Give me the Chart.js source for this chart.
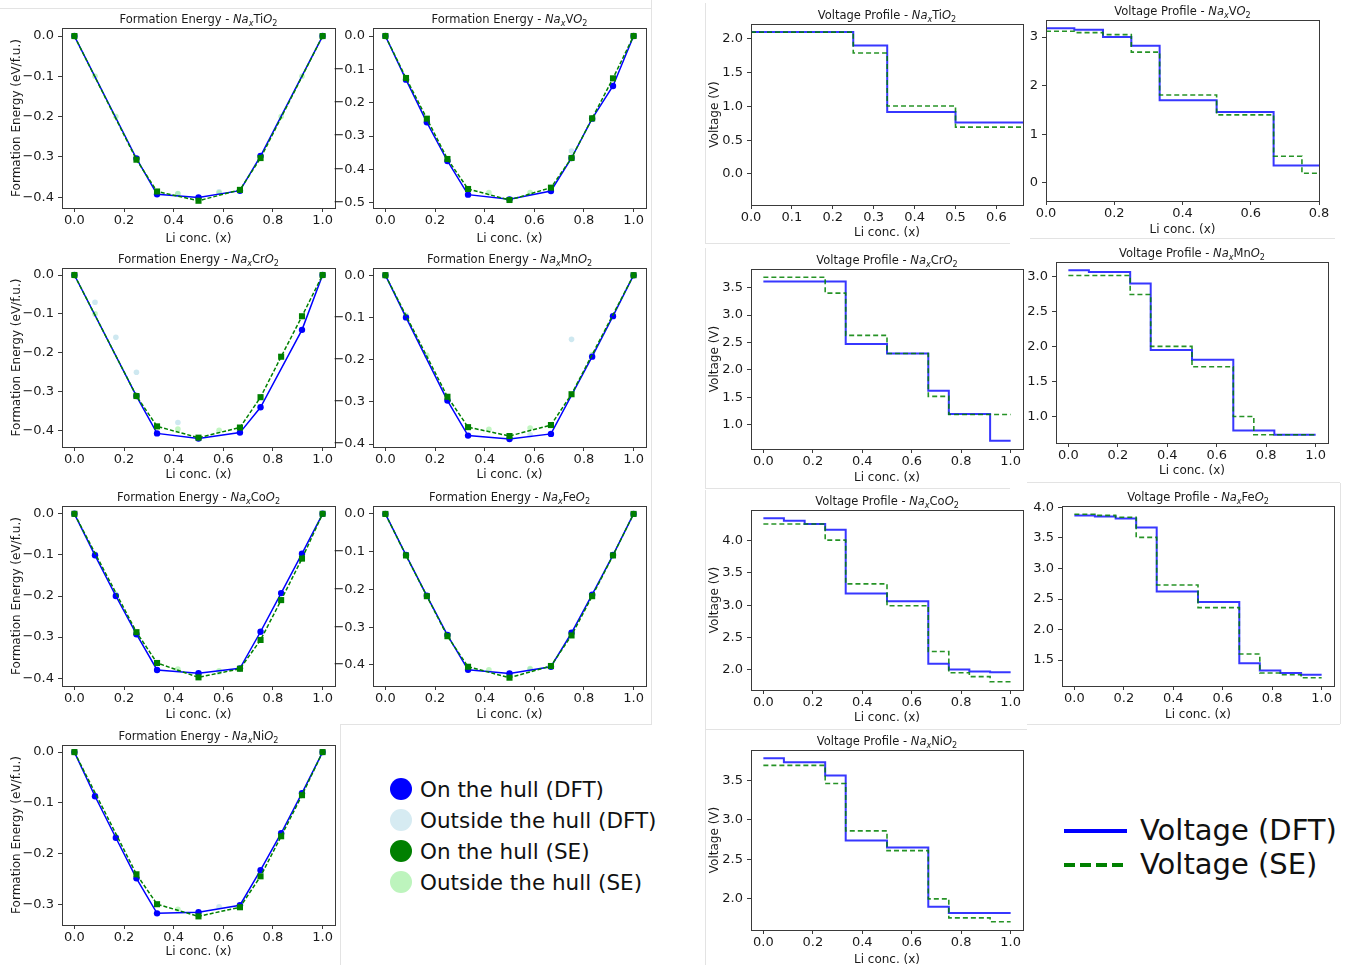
<!DOCTYPE html>
<html>
<head>
<meta charset="utf-8">
<script src="https://cdn.jsdelivr.net/npm/chart.js@4.4.1/dist/chart.umd.min.js"></script>
<style>
  body { margin: 0; background: #fff; width: 1351px; height: 965px; overflow: hidden; position: relative; font-family: "DejaVu Sans", sans-serif; color: #111; }
  canvas { position: absolute; }
  .line { position: absolute; background: #e3e3e3; }
  .lg { position: absolute; display: flex; align-items: center; white-space: nowrap; }
  .dot { display: inline-block; width: 22px; height: 22px; border-radius: 50%; margin-right: 8px; }
</style>
</head>
<body>

<div class="line" style="left:0;top:8px;width:651px;height:1px"></div>
<div class="line" style="left:651px;top:0;width:1px;height:724px"></div>
<div class="line" style="left:340px;top:724px;width:312px;height:1px"></div>
<div class="line" style="left:340px;top:724px;width:1px;height:241px"></div>
<div class="line" style="left:705px;top:3px;width:1px;height:240px"></div>
<div class="line" style="left:705px;top:243px;width:305px;height:1px"></div>
<div class="line" style="left:705px;top:248px;width:1px;height:240px"></div>
<div class="line" style="left:705px;top:488px;width:305px;height:1px"></div>
<div class="line" style="left:705px;top:490px;width:1px;height:475px"></div>
<div class="line" style="left:705px;top:729px;width:322px;height:1px"></div>
<div class="line" style="left:1030px;top:238px;width:305px;height:1px"></div>
<div class="line" style="left:1027px;top:482px;width:313px;height:1px"></div>
<div class="line" style="left:1340px;top:483px;width:1px;height:241px"></div>
<div class="line" style="left:1027px;top:724px;width:313px;height:1px"></div>

<div class="lg" style="left:390px;top:777px;font-size:21.5px;height:24px"><span class="dot" style="background:#0000ff"></span>On the hull (DFT)</div>
<div class="lg" style="left:390px;top:808px;font-size:21.5px;height:24px"><span class="dot" style="background:#d6ebf2"></span>Outside the hull (DFT)</div>
<div class="lg" style="left:390px;top:839px;font-size:21.5px;height:24px"><span class="dot" style="background:#008000"></span>On the hull (SE)</div>
<div class="lg" style="left:390px;top:870px;font-size:21.5px;height:24px"><span class="dot" style="background:#bdf4bd"></span>Outside the hull (SE)</div>

<svg style="position:absolute;left:1060px;top:815px" width="80" height="60">
  <line x1="4" y1="16" x2="67" y2="16" stroke="#0000ff" stroke-width="4"/>
  <line x1="4" y1="50" x2="67" y2="50" stroke="#008000" stroke-width="4" stroke-dasharray="11,5"/>
</svg>
<div class="lg" style="left:1140px;top:813px;font-size:29px;height:34px">Voltage (DFT)</div>
<div class="lg" style="left:1140px;top:847px;font-size:29px;height:34px">Voltage (SE)</div>

<script>
// ---- formation energy data: [x, eV/f.u.] ----
const tiDft = [[0, 0], [0.25, -0.304], [0.333, -0.393], [0.5, -0.401], [0.667, -0.384], [0.75, -0.298], [1, 0]]
const tiSe = [[0, 0], [0.25, -0.307], [0.333, -0.386], [0.5, -0.409], [0.667, -0.382], [0.75, -0.303], [1, 0]]
const tiOutDft = [[0.417, -0.391], [0.583, -0.387]]
const tiOutSe = [[0.083, -0.1], [0.167, -0.2], [0.417, -0.392], [0.583, -0.389], [0.833, -0.2], [0.917, -0.1]]

const vDft = [[0, 0], [0.083, -0.131], [0.167, -0.259], [0.25, -0.375], [0.333, -0.476], [0.5, -0.49], [0.667, -0.465], [0.75, -0.366], [0.833, -0.248], [0.917, -0.15], [1, 0]]
const vSe = [[0, 0], [0.083, -0.126], [0.167, -0.248], [0.25, -0.369], [0.333, -0.459], [0.5, -0.492], [0.667, -0.455], [0.75, -0.366], [0.833, -0.247], [0.917, -0.127], [1, 0]]
const vOutDft = [[0.75, -0.345]]
const vOutSe = [[0.417, -0.47], [0.583, -0.47]]

const crDft = [[0, 0], [0.25, -0.311], [0.333, -0.407], [0.5, -0.42], [0.667, -0.405], [0.75, -0.34], [0.917, -0.141], [1, 0]]
const crSe = [[0, 0], [0.25, -0.311], [0.333, -0.389], [0.5, -0.418], [0.667, -0.392], [0.75, -0.314], [0.833, -0.21], [0.917, -0.106], [1, 0]]
const crOutDft = [[0.083, -0.07], [0.167, -0.16], [0.25, -0.25], [0.417, -0.379]]
const crOutSe = [[0.083, -0.1], [0.417, -0.396], [0.583, -0.399]]

const mnDft = [[0, 0], [0.083, -0.1], [0.25, -0.297], [0.333, -0.38], [0.5, -0.388], [0.667, -0.376], [0.833, -0.193], [0.917, -0.097], [1, 0]]
const mnSe = [[0, 0], [0.25, -0.288], [0.333, -0.36], [0.5, -0.381], [0.667, -0.355], [0.75, -0.282], [1, 0]]
const mnOutDft = [[0.75, -0.152], [0.583, -0.378]]
const mnOutSe = [[0.083, -0.095], [0.167, -0.19], [0.417, -0.365], [0.583, -0.362], [0.833, -0.188]]

const coDft = [[0, 0], [0.083, -0.101], [0.167, -0.2], [0.25, -0.293], [0.333, -0.38], [0.5, -0.388], [0.667, -0.376], [0.75, -0.287], [0.833, -0.193], [0.917, -0.097], [1, 0]]
const coSe = [[0, 0], [0.25, -0.288], [0.333, -0.363], [0.5, -0.398], [0.667, -0.377], [0.75, -0.307], [0.833, -0.21], [0.917, -0.109], [1, 0]]
const coOutDft = [[0.583, -0.385]]
const coOutSe = [[0.083, -0.098], [0.167, -0.196], [0.417, -0.378], [0.583, -0.382]]

const feDft = [[0, 0], [0.083, -0.109], [0.167, -0.217], [0.25, -0.321], [0.333, -0.413], [0.5, -0.423], [0.667, -0.405], [0.75, -0.315], [0.833, -0.214], [0.917, -0.109], [1, 0]]
const feSe = [[0, 0], [0.083, -0.11], [0.167, -0.218], [0.25, -0.324], [0.333, -0.405], [0.5, -0.434], [0.667, -0.403], [0.75, -0.322], [0.833, -0.218], [0.917, -0.11], [1, 0]]
const feOutDft = [[0.583, -0.412]]
const feOutSe = [[0.417, -0.413], [0.583, -0.41]]

const niDft = [[0, 0], [0.083, -0.087], [0.167, -0.169], [0.25, -0.249], [0.333, -0.318], [0.5, -0.316], [0.667, -0.302], [0.75, -0.233], [0.833, -0.16], [0.917, -0.081], [1, 0]]
const niSe = [[0, 0], [0.25, -0.241], [0.333, -0.3], [0.5, -0.324], [0.667, -0.306], [0.75, -0.245], [0.833, -0.166], [0.917, -0.085], [1, 0]]
const niOutDft = [[0.583, -0.305]]
const niOutSe = [[0.417, -0.31]]

// ---- voltage profile data: step edges (x) and plateau voltages (V) ----
const tiStepsDft = [0, 0.25, 0.333, 0.5, 0.667]
const tiVoltDft = [2.1, 1.9, 0.916, 0.762]
const tiStepsSe = [0, 0.25, 0.333, 0.5, 0.667]
const tiVoltSe = [2.1, 1.79, 1.005, 0.693]

const vStepsDft = [0, 0.083, 0.167, 0.25, 0.333, 0.5, 0.667, 0.833]
const vVoltDft = [3.18, 3.15, 3.0, 2.82, 1.7, 1.46, 0.36]
const vStepsSe = [0, 0.083, 0.167, 0.25, 0.333, 0.5, 0.667, 0.75, 0.833]
const vVoltSe = [3.12, 3.09, 3.05, 2.69, 1.81, 1.4, 0.55, 0.2]

const crStepsDft = [0, 0.333, 0.5, 0.667, 0.75, 0.917, 1]
const crVoltDft = [3.61, 2.475, 2.3, 1.62, 1.2, 0.71]
const crStepsSe = [0, 0.25, 0.333, 0.5, 0.667, 0.75, 1]
const crVoltSe = [3.69, 3.4, 2.63, 2.3, 1.52, 1.19]

const mnStepsDft = [0, 0.083, 0.25, 0.333, 0.5, 0.667, 0.833, 1]
const mnVoltDft = [3.086, 3.06, 2.895, 1.95, 1.81, 0.8, 0.74]
const mnStepsSe = [0, 0.25, 0.333, 0.5, 0.667, 0.75, 1]
const mnVoltSe = [3.01, 2.74, 2.0, 1.71, 1.0, 0.74]

const coStepsDft = [0, 0.083, 0.167, 0.25, 0.333, 0.5, 0.667, 0.75, 0.833, 0.917, 1]
const coVoltDft = [4.35, 4.31, 4.26, 4.17, 3.18, 3.06, 2.09, 2.0, 1.97, 1.96]
const coStepsSe = [0, 0.25, 0.333, 0.5, 0.667, 0.75, 0.833, 0.917, 1]
const coVoltSe = [4.26, 4.01, 3.33, 2.99, 2.28, 1.95, 1.89, 1.81]

const feStepsDft = [0, 0.083, 0.167, 0.25, 0.333, 0.5, 0.667, 0.75, 0.833, 0.917, 1]
const feVoltDft = [3.87, 3.85, 3.82, 3.67, 2.625, 2.45, 1.45, 1.33, 1.29, 1.26]
const feStepsSe = [0, 0.083, 0.167, 0.25, 0.333, 0.5, 0.667, 0.75, 0.833, 0.917, 1]
const feVoltSe = [3.89, 3.87, 3.84, 3.51, 2.73, 2.36, 1.6, 1.29, 1.26, 1.21]

const niStepsDft = [0, 0.083, 0.25, 0.333, 0.5, 0.667, 0.75, 1]
const niVoltDft = [3.78, 3.73, 3.56, 2.74, 2.65, 1.9, 1.82]
const niStepsSe = [0, 0.25, 0.333, 0.5, 0.667, 0.75, 0.917, 1]
const niVoltSe = [3.69, 3.46, 2.86, 2.61, 2.0, 1.76, 1.71]

// ---- tick labels ----
const concTicks = [0, 0.2, 0.4, 0.6, 0.8, 1.0]
const concTicksTi = [0, 0.1, 0.2, 0.3, 0.4, 0.5, 0.6]
const concTicksV = [0, 0.2, 0.4, 0.6, 0.8]
const energyTicks4 = [0, -0.1, -0.2, -0.3, -0.4]
const energyTicks5 = [0, -0.1, -0.2, -0.3, -0.4, -0.5]
const energyTicks3 = [0, -0.1, -0.2, -0.3]
const voltTicksTi = [0, 0.5, 1.0, 1.5, 2.0]
const voltTicksV = [0, 1, 2, 3]
const voltTicksCr = [1.0, 1.5, 2.0, 2.5, 3.0, 3.5]
const voltTicksMn = [1.0, 1.5, 2.0, 2.5, 3.0]
const voltTicksCo = [2.0, 2.5, 3.0, 3.5, 4.0]
const voltTicksFe = [1.5, 2.0, 2.5, 3.0, 3.5, 4.0]
const voltTicksNi = [2.0, 2.5, 3.0, 3.5]

const FONT = '"DejaVu Sans", sans-serif'
const INK = '#1a1a1a'
const SPINE = '#3a3a3a'
const BLUE = '#0000ff'
const GREEN = '#008000'

const fePanels = [
  { metal: 'Ti', box: [62, 28, 335, 208], y: [-0.427, 0.02], yt: energyTicks4, d: [tiDft, tiSe, tiOutDft, tiOutSe], yTitleX: 17, xTitleY: 237 },
  { metal: 'V', box: [373, 28, 646, 208], y: [-0.516, 0.024], yt: energyTicks5, d: [vDft, vSe, vOutDft, vOutSe], xTitleY: 237 },
  { metal: 'Cr', box: [62, 268, 335, 447], y: [-0.442, 0.018], yt: energyTicks4, d: [crDft, crSe, crOutDft, crOutSe], yTitleX: 17, xTitleY: 473 },
  { metal: 'Mn', box: [373, 268, 646, 447], y: [-0.407, 0.017], yt: energyTicks4, d: [mnDft, mnSe, mnOutDft, mnOutSe], xTitleY: 473 },
  { metal: 'Co', box: [62, 506, 335, 686], y: [-0.419, 0.019], yt: energyTicks4, d: [coDft, coSe, coOutDft, coOutSe], yTitleX: 17, xTitleY: 713 },
  { metal: 'Fe', box: [373, 506, 646, 686], y: [-0.456, 0.021], yt: energyTicks4, d: [feDft, feSe, feOutDft, feOutSe], xTitleY: 713 },
  { metal: 'Ni', box: [62, 745, 335, 925], y: [-0.341, 0.014], yt: energyTicks3, d: [niDft, niSe, niOutDft, niOutSe], yTitleX: 17, xTitleY: 950 }
]

const vPanels = [
  { metal: 'Ti', box: [751, 24, 1023, 205], x: [0, 0.665], xt: concTicksTi, y: [-0.46, 2.22], yt: voltTicksTi, dec: 1, s: [tiStepsDft, tiVoltDft, tiStepsSe, tiVoltSe], yTitleX: 715, xTitleY: 231 },
  { metal: 'V', box: [1046, 20, 1319, 201], x: [0, 0.8], xt: concTicksV, y: [-0.37, 3.35], yt: voltTicksV, dec: 0, s: [vStepsDft, vVoltDft, vStepsSe, vVoltSe], xTitleY: 228 },
  { metal: 'Cr', box: [751, 269, 1023, 449], x: [-0.05, 1.05], xt: concTicks, y: [0.561, 3.839], yt: voltTicksCr, dec: 1, s: [crStepsDft, crVoltDft, crStepsSe, crVoltSe], yTitleX: 715, xTitleY: 476 },
  { metal: 'Mn', box: [1056, 262, 1328, 443], x: [-0.05, 1.05], xt: concTicks, y: [0.623, 3.203], yt: voltTicksMn, dec: 1, s: [mnStepsDft, mnVoltDft, mnStepsSe, mnVoltSe], xTitleY: 469 },
  { metal: 'Co', box: [751, 510, 1023, 690], x: [-0.05, 1.05], xt: concTicks, y: [1.683, 4.477], yt: voltTicksCo, dec: 1, s: [coStepsDft, coVoltDft, coStepsSe, coVoltSe], yTitleX: 715, xTitleY: 716 },
  { metal: 'Fe', box: [1062, 506, 1334, 686], x: [-0.05, 1.05], xt: concTicks, y: [1.076, 4.024], yt: voltTicksFe, dec: 1, s: [feStepsDft, feVoltDft, feStepsSe, feVoltSe], xTitleY: 713 },
  { metal: 'Ni', box: [751, 750, 1023, 930], x: [-0.05, 1.05], xt: concTicks, y: [1.606, 3.884], yt: voltTicksNi, dec: 1, s: [niStepsDft, niVoltDft, niStepsSe, niVoltSe], yTitleX: 715, xTitleY: 958 }
]

function fmt(v, dec) {
  return (v < -1e-9 ? '\u2212' : '') + Math.abs(v).toFixed(dec)
}

function toPts(arr) {
  return arr.map(([x, y]) => ({ x, y }))
}

function stepPts(edges, volts) {
  const pts = volts.map((v, i) => ({ x: edges[i], y: v }))
  pts.push({ x: edges[edges.length - 1], y: volts[volts.length - 1] })
  return pts
}

// title with mathtext-like formula: Na_x M O_2
function titlePlugin(prefix, metal) {
  const size = 11.5
  const parts = [
    { t: prefix }, { t: 'Na', it: true }, { t: 'x', it: true, sub: true },
    { t: metal }, { t: 'O', it: true }, { t: '2', sub: true }
  ]
  const fontOf = p => (p.it ? 'italic ' : '') + (p.sub ? size * 0.7 : size) + 'px ' + FONT
  return {
    id: 'mathTitle',
    afterDraw(chart) {
      const ctx = chart.ctx
      const a = chart.chartArea
      ctx.save()
      const widths = parts.map(p => { ctx.font = fontOf(p); return ctx.measureText(p.t).width })
      let x = (a.left + a.right) / 2 - widths.reduce((s, w) => s + w, 0) / 2
      const base = a.top - 9 + size * 0.36
      ctx.fillStyle = INK
      ctx.textAlign = 'left'
      ctx.textBaseline = 'alphabetic'
      parts.forEach((p, i) => {
        ctx.font = fontOf(p)
        ctx.fillText(p.t, x, base + (p.sub ? size * 0.25 : 0))
        x += widths[i]
      })
      ctx.restore()
    }
  }
}

const framePlugin = {
  id: 'frame',
  afterDraw(chart) {
    const { ctx, chartArea: a } = chart
    ctx.save()
    ctx.strokeStyle = SPINE
    ctx.lineWidth = 1
    const l = Math.round(a.left) + 0.5, t = Math.round(a.top) + 0.5
    ctx.strokeRect(l, t, Math.round(a.right) - Math.round(a.left), Math.round(a.bottom) - Math.round(a.top))
    ctx.restore()
  }
}

function makeChart(p, yLabel, datasets, xRange, xTicks, dec, prefix) {
  const [L, T, R, B] = p.box
  const topPad = 20, rightPad = 14
  const titleY = p.xTitleY + 1.5
  let canvasLeft, yPad = 0
  if (p.yTitleX) {
    canvasLeft = Math.round(p.yTitleX - 9.2)
    yPad = p.yTitleX - canvasLeft - 7.2
  } else {
    canvasLeft = L - 46
  }
  const yw = L - canvasLeft
  const xh = Math.ceil(titleY + 7.2 - B)
  const xPad = Math.max(0, B + xh - 7.2 - titleY)

  const canvas = document.createElement('canvas')
  canvas.width = yw + (R - L) + rightPad
  canvas.height = topPad + (B - T) + xh
  canvas.style.left = canvasLeft + 'px'
  canvas.style.top = (T - topPad) + 'px'
  document.body.appendChild(canvas)

  const tickFont = { family: FONT, size: 13 }
  const titleFont = { family: FONT, size: 12 }
  const grid = { drawOnChartArea: false, drawTicks: true, tickLength: 4, color: SPINE }

  new Chart(canvas, {
    type: 'scatter',
    data: { datasets },
    options: {
      responsive: false,
      animation: false,
      events: [],
      layout: { padding: { top: topPad, right: rightPad, left: 0, bottom: 0 } },
      plugins: { legend: { display: false }, tooltip: { enabled: false } },
      scales: {
        x: {
          type: 'linear', min: xRange[0], max: xRange[1],
          afterBuildTicks: s => { s.ticks = xTicks.map(v => ({ value: v })) },
          afterFit: s => { s.height = xh },
          ticks: { autoSkip: false, maxRotation: 0, padding: 1, color: INK, font: tickFont, callback: v => fmt(v, 1) },
          grid,
          border: { display: true, color: SPINE },
          title: { display: true, text: 'Li conc. (x)', color: INK, font: titleFont, padding: { top: 0, bottom: xPad } }
        },
        y: {
          type: 'linear', min: p.y[0], max: p.y[1],
          afterBuildTicks: s => { s.ticks = p.yt.map(v => ({ value: v })) },
          afterFit: s => { s.width = yw },
          ticks: { autoSkip: false, padding: 4, color: INK, font: tickFont, callback: v => fmt(v, dec) },
          grid,
          border: { display: true, color: SPINE },
          title: { display: !!p.yTitleX, text: yLabel, color: INK, font: titleFont, padding: { top: yPad, bottom: 0 } }
        }
      }
    },
    plugins: [titlePlugin(prefix, p.metal), framePlugin]
  })
}

fePanels.forEach(p => {
  const [dft, se, outDft, outSe] = p.d
  const datasets = [
    { label: 'On the hull (SE)', data: toPts(se), showLine: true, borderColor: GREEN, backgroundColor: GREEN,
      borderWidth: 1.5, borderDash: [4, 2], pointStyle: 'rect', pointRadius: 4.3, pointBorderWidth: 0, order: 0 },
    { label: 'On the hull (DFT)', data: toPts(dft), showLine: true, borderColor: BLUE, backgroundColor: BLUE,
      borderWidth: 1.5, pointRadius: 3.2, pointBorderWidth: 0, order: 1 },
    { label: 'Outside the hull (SE)', data: toPts(outSe), backgroundColor: 'rgba(144,238,144,0.55)',
      pointRadius: 2.8, pointBorderWidth: 0, order: 2 },
    { label: 'Outside the hull (DFT)', data: toPts(outDft), backgroundColor: 'rgba(173,216,230,0.6)',
      pointRadius: 2.8, pointBorderWidth: 0, order: 3 }
  ]
  makeChart(p, 'Formation Energy (eV/f.u.)', datasets, [-0.05, 1.05], concTicks, 1, 'Formation Energy - ')
})

vPanels.forEach(p => {
  const [edDft, vDftArr, edSe, vSeArr] = p.s
  const datasets = [
    { label: 'Voltage (SE)', data: stepPts(edSe, vSeArr), showLine: true, stepped: true, borderColor: 'rgba(0,128,0,0.85)',
      borderWidth: 1.6, borderDash: [5, 3], pointRadius: 0, order: 0 },
    { label: 'Voltage (DFT)', data: stepPts(edDft, vDftArr), showLine: true, stepped: true, borderColor: 'rgba(20,20,255,0.85)',
      borderWidth: 2, pointRadius: 0, order: 1 }
  ]
  makeChart(p, 'Voltage (V)', datasets, p.x, p.xt, p.dec, 'Voltage Profile - ')
})
</script>
</body>
</html>
